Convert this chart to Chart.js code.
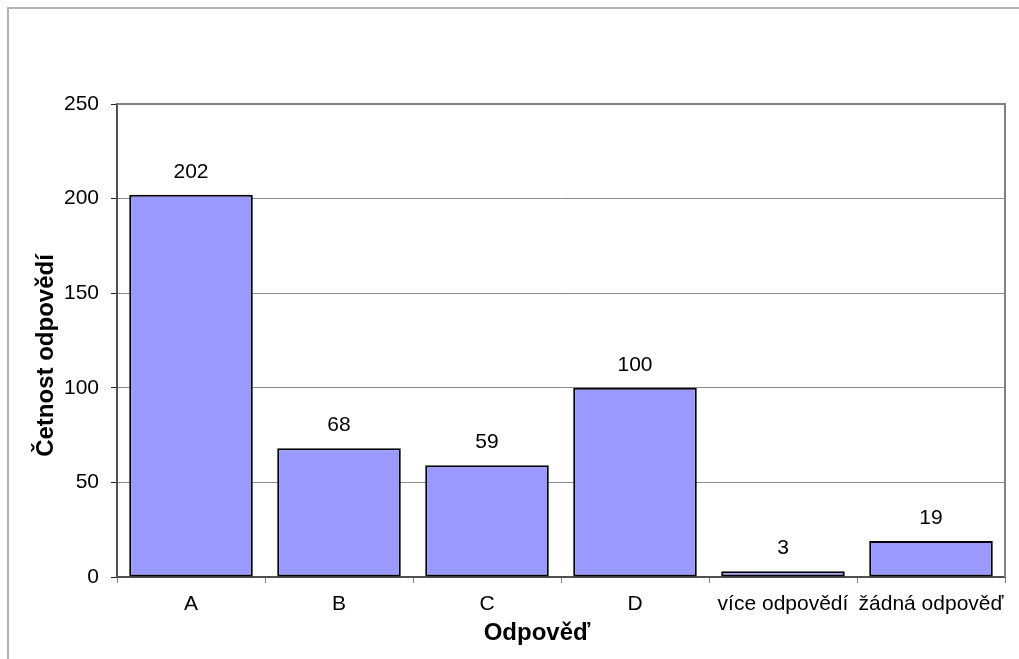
<!DOCTYPE html>
<html lang="cs">
<head>
<meta charset="utf-8">
<title>Četnost odpovědí</title>
<script src="https://cdn.jsdelivr.net/npm/chart.js@4.4.1/dist/chart.umd.min.js"></script>
<style>
  html, body { margin: 0; padding: 0; background: #fff; }
  #wrap { position: relative; width: 1019px; height: 659px; }
</style>
</head>
<body>
<div id="wrap"><canvas id="chart"></canvas></div>
<script>
const categories = ["A", "B", "C", "D", "více odpovědí", "žádná odpověď"];
const counts = [202, 68, 59, 100, 3, 19];
const yTicks = [0, 50, 100, 150, 200, 250];

const FONT = "'Liberation Sans', Arial, sans-serif";

// frame around the whole chart + top/right edges of the plot area
const framePlugin = {
  id: "frame",
  beforeDraw(chart) {
    const c = chart.ctx;
    c.save();
    c.fillStyle = "#fff";
    c.fillRect(0, 0, chart.width, chart.height);
    c.strokeStyle = "#b4b4b4";
    c.lineWidth = 2;
    c.strokeRect(8, 8, chart.width + 50, chart.height + 50);
    c.restore();
  },
  afterDraw(chart) {
    const a = chart.chartArea;
    const c = chart.ctx;
    c.save();
    c.strokeStyle = "#808080";
    c.lineWidth = 2;
    c.beginPath();
    c.moveTo(a.left, a.top);
    c.lineTo(a.right, a.top);
    c.lineTo(a.right, a.bottom);
    c.stroke();
    c.restore();
  }
};

// value labels above each bar
const valueLabels = {
  id: "valueLabels",
  afterDatasetsDraw(chart) {
    const c = chart.ctx;
    const meta = chart.getDatasetMeta(0);
    c.save();
    c.font = "21px " + FONT;
    c.fillStyle = "#000";
    c.textAlign = "center";
    c.textBaseline = "middle";
    meta.data.forEach((bar, i) => {
      c.fillText(String(counts[i]), bar.x, bar.y - 23);
    });
    c.restore();
  }
};

// axis titles
const axisTitles = {
  id: "axisTitles",
  afterDraw(chart) {
    const a = chart.chartArea;
    const c = chart.ctx;
    c.save();
    c.font = "bold 24px " + FONT;
    c.fillStyle = "#000";
    c.textAlign = "center";
    c.textBaseline = "middle";
    c.fillText("Odpověď", (a.left + a.right) / 2 - 24, a.bottom + 56);
    c.translate(a.left - 71, (a.top + a.bottom) / 2 + 15);
    c.rotate(-Math.PI / 2);
    c.fillText("Četnost odpovědí", 0, 0);
    c.restore();
  }
};

new Chart(document.getElementById("chart"), {
  type: "bar",
  data: {
    labels: categories,
    datasets: [{
      data: counts,
      backgroundColor: "#9999ff",
      borderColor: "#000",
      borderWidth: 2,
      borderSkipped: false,
      barPercentage: 0.835,
      categoryPercentage: 1
    }]
  },
  options: {
    responsive: true,
    maintainAspectRatio: false,
    animation: false,
    layout: { padding: { top: 104, right: 14, left: 0, bottom: 0 } },
    plugins: {
      legend: { display: false },
      tooltip: { enabled: false }
    },
    scales: {
      x: {
        afterFit: (scale) => { scale.height = 82; },
        grid: {
          offset: true,
          drawOnChartArea: false,
          tickLength: 6,
          color: "#808080",
          lineWidth: 1
        },
        border: { display: true, color: "#505050", width: 2 },
        ticks: {
          color: "#000",
          padding: 9,
          maxRotation: 0,
          autoSkip: false,
          font: { family: FONT, size: 21 }
        }
      },
      y: {
        min: 0,
        max: 250,
        afterFit: (scale) => { scale.width = 117; },
        afterBuildTicks: (scale) => { scale.ticks = yTicks.map(v => ({ value: v })); },
        grid: {
          color: "#8a8a8a",
          lineWidth: 1,
          tickLength: 6,
          tickColor: "#222"
        },
        border: { display: true, color: "#505050", width: 2 },
        ticks: {
          color: "#000",
          padding: 12,
          font: { family: FONT, size: 21 }
        }
      }
    }
  },
  plugins: [framePlugin, valueLabels, axisTitles]
});
</script>
</body>
</html>
